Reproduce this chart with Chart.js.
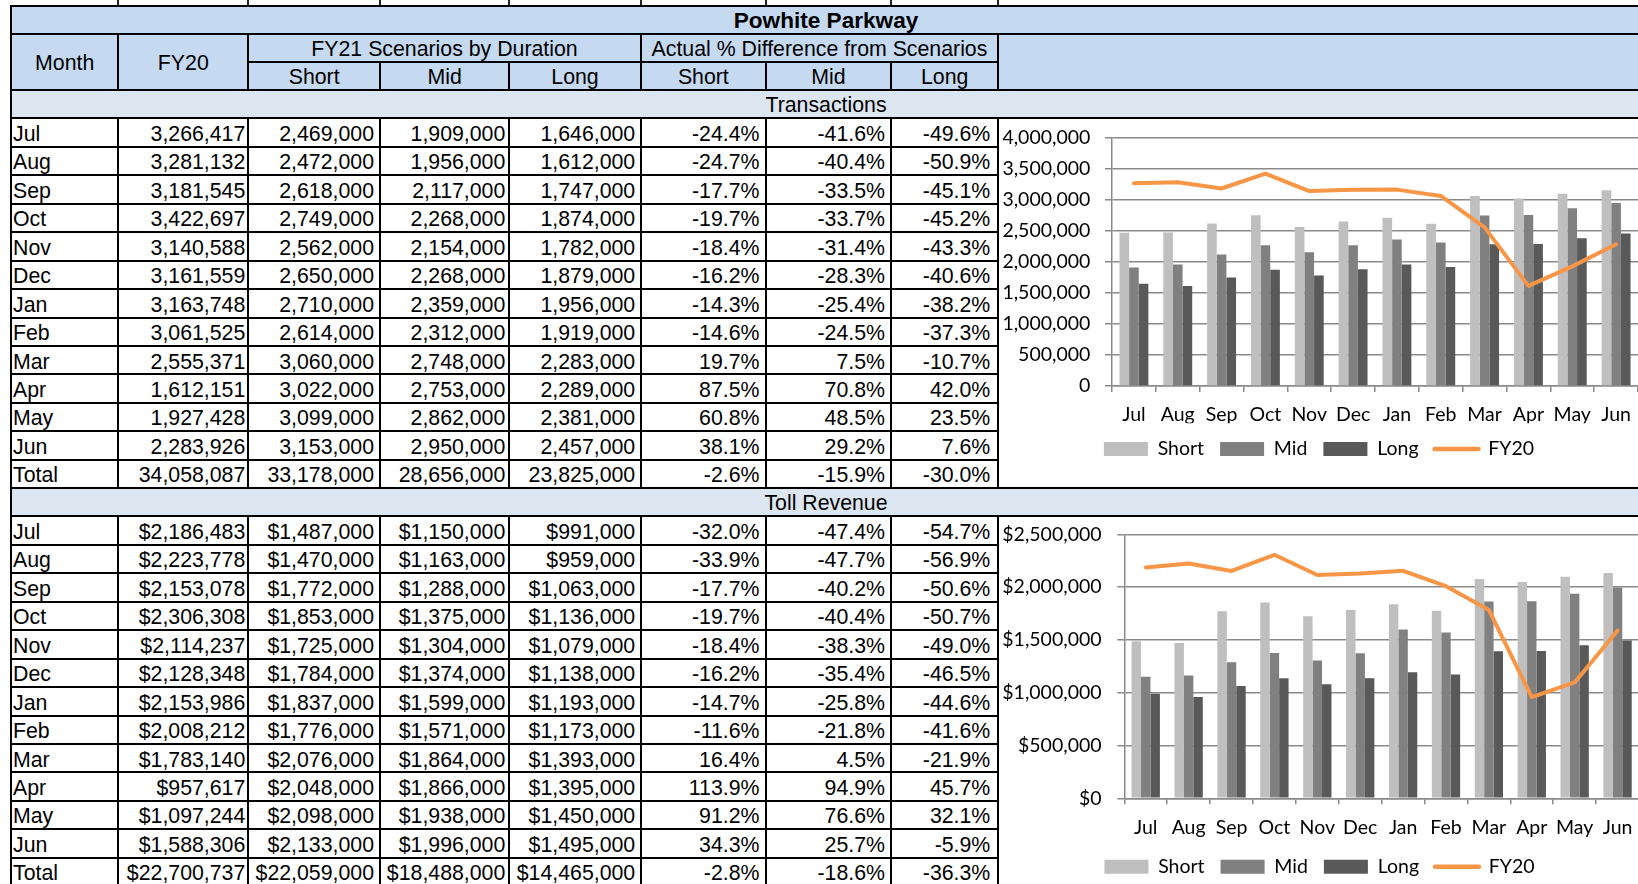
<!DOCTYPE html>
<html><head><meta charset="utf-8">
<script src="https://cdn.jsdelivr.net/npm/chart.js@4.4.1/dist/chart.umd.min.js"></script>
<style>
html,body{margin:0;padding:0;background:#fff;width:1638px;height:884px;overflow:hidden;position:relative;}
.c{position:absolute;box-sizing:border-box;border:2px solid #000;font-family:'Liberation Sans',Arial,sans-serif;font-size:21.3px;color:#000;display:flex;align-items:center;white-space:nowrap;overflow:hidden;line-height:1;}
.c span{position:relative;top:2px;}
.stub{position:absolute;width:2px;background:#222;top:0;height:5px;}
.chartbox{position:absolute;}
</style></head><body>
<div id="table"></div>
<div class="chartbox" style="left:1000px;top:119px;width:646px;height:368px"><canvas id="c1"></canvas></div>
<div class="chartbox" style="left:1000px;top:517px;width:646px;height:372px"><canvas id="c2"></canvas></div>
<script>
// ---------- data ----------
const months = ['Jul','Aug','Sep','Oct','Nov','Dec','Jan','Feb','Mar','Apr','May','Jun'];
const seriesNames = ['Short','Mid','Long','FY20'];

const txFY20  = [3266417,3281132,3181545,3422697,3140588,3161559,3163748,3061525,2555371,1612151,1927428,2283926];
const txShort = [2469000,2472000,2618000,2749000,2562000,2650000,2710000,2614000,3060000,3022000,3099000,3153000];
const txMid   = [1909000,1956000,2117000,2268000,2154000,2268000,2359000,2312000,2748000,2753000,2862000,2950000];
const txLong  = [1646000,1612000,1747000,1874000,1782000,1879000,1956000,1919000,2283000,2289000,2381000,2457000];
const txPctShort = [-24.4,-24.7,-17.7,-19.7,-18.4,-16.2,-14.3,-14.6,19.7,87.5,60.8,38.1];
const txPctMid   = [-41.6,-40.4,-33.5,-33.7,-31.4,-28.3,-25.4,-24.5,7.5,70.8,48.5,29.2];
const txPctLong  = [-49.6,-50.9,-45.1,-45.2,-43.3,-40.6,-38.2,-37.3,-10.7,42.0,23.5,7.6];
const txTotal    = [34058087,33178000,28656000,23825000];
const txTotalPct = [-2.6,-15.9,-30.0];

const revFY20  = [2186483,2223778,2153078,2306308,2114237,2128348,2153986,2008212,1783140,957617,1097244,1588306];
const revShort = [1487000,1470000,1772000,1853000,1725000,1784000,1837000,1776000,2076000,2048000,2098000,2133000];
const revMid   = [1150000,1163000,1288000,1375000,1304000,1374000,1599000,1571000,1864000,1866000,1938000,1996000];
const revLong  = [991000,959000,1063000,1136000,1079000,1138000,1193000,1173000,1393000,1395000,1450000,1495000];
const revPctShort = [-32.0,-33.9,-17.7,-19.7,-18.4,-16.2,-14.7,-11.6,16.4,113.9,91.2,34.3];
const revPctMid   = [-47.4,-47.7,-40.2,-40.4,-38.3,-35.4,-25.8,-21.8,4.5,94.9,76.6,25.7];
const revPctLong  = [-54.7,-56.9,-50.6,-50.7,-49.0,-46.5,-44.6,-41.6,-21.9,45.7,32.1,-5.9];
const revTotal    = [22700737,22059000,18488000,14465000];
const revTotalPct = [-2.8,-18.6,-36.3];

const txTicks  = {min:0, max:4000000, step:500000};
const revTicks = {min:0, max:2500000, step:500000};

// ---------- table ----------
const X = [11,118.3,248.3,380,509.3,640.7,766,891,998.3,1641];
const RH = 28.46;
const padR = [0,2,5,3,4.5,5.5,5,7];
const HEAD = '#C5D9F1', SECT = '#DCE6F1';
const tbl = document.getElementById('table');
function cell(x1,y1,x2,y2,text,o){
  o = o||{};
  const d = document.createElement('div');
  d.className='c';
  d.style.left=(x1-1)+'px'; d.style.top=(y1-1)+'px';
  d.style.width=(x2-x1+2)+'px'; d.style.height=(y2-y1+2)+'px';
  if(o.bg) d.style.background=o.bg;
  d.style.justifyContent = o.align==='left'?'flex-start':(o.align==='right'?'flex-end':'center');
  if(o.align==='left') d.style.paddingLeft='1px';
  if(o.align==='right') d.style.paddingRight=(o.pr||3)+'px';
  if(o.bold) d.style.fontWeight='bold';
  if(o.size) d.style.fontSize=o.size+'px';
  if(text){ const s=document.createElement('span'); s.textContent=text; d.appendChild(s); }
  tbl.appendChild(d);
}
[118.3,248.3,380,509.3,640.7,766,891,998.3].forEach(x=>{
  const s=document.createElement('div'); s.className='stub'; s.style.left=(x-1)+'px'; tbl.appendChild(s);
});
cell(X[0],5.5,X[9],33.5,'Powhite Parkway',{bg:HEAD,bold:true,size:22.6});
cell(X[0],33.5,X[1],89.5,'Month',{bg:HEAD});
cell(X[1],33.5,X[2],89.5,'FY20',{bg:HEAD});
cell(X[2],33.5,X[5],61.5,'FY21 Scenarios by Duration',{bg:HEAD});
cell(X[5],33.5,X[8],61.5,'Actual % Difference from Scenarios',{bg:HEAD});
cell(X[8],33.5,X[9],89.5,'',{bg:HEAD});
['Short','Mid','Long','Short','Mid','Long'].forEach((t,i)=>cell(X[2+i],61.5,X[3+i],89.5,t,{bg:HEAD}));

const fmtN = (v,money)=> (money?'$':'') + v.toLocaleString('en-US');
const fmtP = v => v.toFixed(1)+'%';
function section(y0,title,fy,sh,mi,lo,ps,pm,pl,tot,totp,money){
  cell(X[0],y0,X[9],y0+28.8,title,{bg:SECT});
  let y=y0+28.8;
  for(let i=0;i<=months.length;i++){
    const isT = i===months.length;
    const vals = isT ? [ 'Total', fmtN(tot[0],money), fmtN(tot[1],money), fmtN(tot[2],money), fmtN(tot[3],money), fmtP(totp[0]), fmtP(totp[1]), fmtP(totp[2]) ]
      : [ months[i], fmtN(fy[i],money), fmtN(sh[i],money), fmtN(mi[i],money), fmtN(lo[i],money), fmtP(ps[i]), fmtP(pm[i]), fmtP(pl[i]) ];
    vals.forEach((t,c)=>cell(X[c],y,X[c+1],y+RH,t,{align:c===0?'left':'right',pr:padR[c]}));
    y+=RH;
  }
}
section(89.5,'Transactions',txFY20,txShort,txMid,txLong,txPctShort,txPctMid,txPctLong,txTotal,txTotalPct,false);
section(488.3-0.8,'Toll Revenue',revFY20,revShort,revMid,revLong,revPctShort,revPctMid,revPctLong,revTotal,revTotalPct,true);

// ---------- charts ----------
const GRID = '#8a8a8a';
const FONT = {family:"Lato, 'Open Sans', sans-serif", size:19.5};
const COLORS = ['#BFBFBF','#808080','#595959','#F79646'];

function makeChart(id, fy, sh, mi, lo, tk, money, lay){
  new Chart(document.getElementById(id), {
    data:{
      labels: months,
      datasets:[
        {type:'bar', label:seriesNames[0], data:sh, backgroundColor:COLORS[0], order:1},
        {type:'bar', label:seriesNames[1], data:mi, backgroundColor:COLORS[1], order:1},
        {type:'bar', label:seriesNames[2], data:lo, backgroundColor:COLORS[2], order:1},
        {type:'line', label:seriesNames[3], data:fy, borderColor:COLORS[3], backgroundColor:COLORS[3], borderWidth:4, borderJoinStyle:'round', borderCapStyle:'round', pointRadius:0, tension:0, fill:false, order:0}
      ]
    },
    options:{
      responsive:true, maintainAspectRatio:false, animation:false, devicePixelRatio:1,
      datasets:{bar:{categoryPercentage:0.66, barPercentage:1.0}},
      layout:{padding:lay.padding},
      plugins:{
        tooltip:{enabled:false},
        legend:{
          position:'bottom',
          labels:{
            usePointStyle:true, pointStyleWidth:44, boxHeight:14, padding:16, font:FONT, color:'#000',
            generateLabels: ch => ch.data.datasets.map((ds,i)=>({
              text: ds.label,
              fillStyle: ds.type==='line' ? 'rgba(0,0,0,0)' : ds.backgroundColor,
              strokeStyle: ds.type==='line' ? ds.borderColor : 'rgba(0,0,0,0)',
              lineWidth: ds.type==='line' ? 4.5 : 0,
              lineCap: ds.type==='line' ? 'round' : 'butt',
              pointStyle: ds.type==='line' ? 'line' : 'rect',
              hidden:false, datasetIndex:i, fontColor:'#000'
            }))
          }
        }
      },
      scales:{
        x:{
          offset:true,
          grid:{offset:true, drawOnChartArea:false, drawTicks:true, tickLength:6, color:GRID, lineWidth:1.5},
          border:{display:true, color:GRID, width:1.5},
          ticks:{font:FONT, color:'#000', padding:lay.xpad, maxRotation:0, autoSkip:false},
          afterFit: s => { s.height = lay.xh; }
        },
        y:{
          min:tk.min, max:tk.max,
          grid:{color:GRID, lineWidth:1.5, tickLength:7, drawTicks:true},
          border:{display:true, color:GRID, width:1.5},
          ticks:{stepSize:tk.step, font:FONT, color:'#000', padding:lay.ypad,
            callback: v => (money?'$':'') + Number(v).toLocaleString('en-US')},
          afterFit: s => { s.width = lay.yw; s.paddingTop = 0; s.paddingBottom = 0; }
        }
      }
    }
  });
}
makeChart('c1', txFY20, txShort, txMid, txLong, txTicks, false,
  {padding:{top:18.7,right:8,bottom:18.25,left:0}, yw:112, xh:37.25, xpad:11.3, ypad:14.6});
makeChart('c2', revFY20, revShort, revMid, revLong, revTicks, true,
  {padding:{top:17.3,right:7,bottom:2.55,left:0}, yw:124.3, xh:42.65, xpad:11.5, ypad:15.7});
</script>
</body></html>
